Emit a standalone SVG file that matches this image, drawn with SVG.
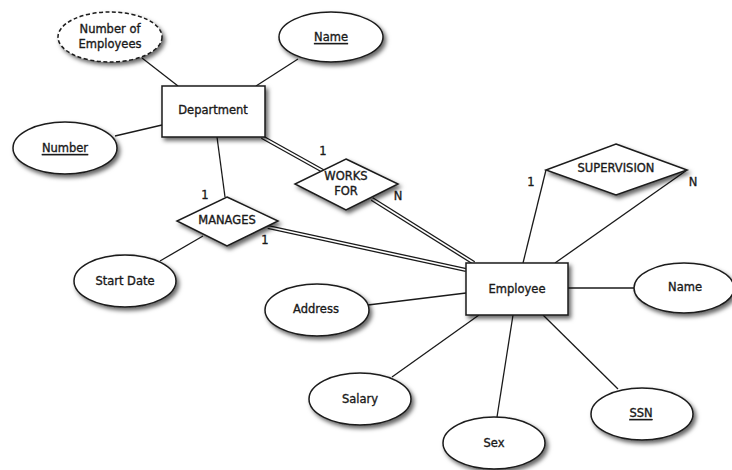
<svg xmlns="http://www.w3.org/2000/svg" width="732" height="470" viewBox="0 0 732 470">
  <defs>
    <filter id="shadow" x="-20%" y="-20%" width="150%" height="160%">
      <feDropShadow dx="2.5" dy="3" stdDeviation="2" flood-color="#000" flood-opacity="0.6"/>
    </filter>
    <style>
      .shape { fill: #fff; stroke: #1a1a1a; stroke-width: 1.5; filter: url(#shadow); }
      .dashed { stroke-dasharray: 4 2.5; }
      .line { stroke: #1a1a1a; stroke-width: 1.3; fill: none; }
      .dbl-out { stroke: #1a1a1a; stroke-width: 4.2; fill: none; }
      .dbl-in { stroke: #fff; stroke-width: 1.6; fill: none; }
      text { font-family: "DejaVu Sans", "Liberation Sans", sans-serif; font-size: 11.5px; fill: #1a1a1a; stroke: #1a1a1a; stroke-width: 0.35; text-anchor: middle; dominant-baseline: central; }
      .key { text-decoration: underline; }
    </style>
  </defs>
  <rect width="732" height="470" fill="#fff"/>

  <!-- connectors -->
  <g id="connectors">
    <line class="line" x1="142" y1="58" x2="178" y2="86"/>
    <line class="line" x1="298" y1="59" x2="256" y2="86"/>
    <line class="line" x1="115" y1="136" x2="162" y2="125"/>
    <line class="line" x1="217" y1="137" x2="225" y2="197"/>
    <line class="line" x1="160" y1="261" x2="203" y2="236"/>
    <line class="line" x1="368" y1="305" x2="466" y2="293"/>
    <line class="line" x1="392" y1="377" x2="479" y2="315"/>
    <line class="line" x1="497" y1="417" x2="513" y2="315"/>
    <line class="line" x1="618" y1="389" x2="543" y2="315"/>
    <line class="line" x1="568" y1="288" x2="634" y2="288"/>
    <line class="line" x1="546" y1="170" x2="523" y2="263"/>
    <line class="line" x1="687" y1="170" x2="555" y2="263"/>
    <!-- total participation (double lines) -->
    <line class="dbl-out" x1="262" y1="137" x2="323" y2="171"/>
    <line class="dbl-in" x1="262" y1="137" x2="323" y2="171"/>
    <line class="dbl-out" x1="372" y1="199" x2="474" y2="263"/>
    <line class="dbl-in" x1="372" y1="199" x2="474" y2="263"/>
    <line class="dbl-out" x1="268" y1="227" x2="466" y2="270"/>
    <line class="dbl-in" x1="268" y1="227" x2="466" y2="270"/>
    <!-- cardinalities -->
    <text x="323" y="151">1</text>
    <text x="398" y="196">N</text>
    <text x="205" y="195">1</text>
    <text x="265" y="240">1</text>
    <text x="531" y="182">1</text>
    <text x="693" y="182">N</text>
  </g>

  <g id="num-employees">
    <ellipse class="shape dashed" cx="110" cy="37" rx="52" ry="25"/>
    <text x="110" y="29">Number of</text>
    <text x="110" y="44">Employees</text>
  </g>
  <g id="dept-name">
    <ellipse class="shape" cx="331" cy="37" rx="52" ry="25"/>
    <text class="key" x="331" y="37">Name</text>
  </g>
  <g id="department">
    <rect class="shape" x="162" y="86" width="103" height="51"/>
    <text x="213" y="110">Department</text>
  </g>
  <g id="dept-number">
    <ellipse class="shape" cx="65" cy="148" rx="52" ry="26"/>
    <text class="key" x="65" y="148">Number</text>
  </g>
  <g id="manages">
    <polygon class="shape" points="227,197 278,221 227,246 177,221"/>
    <text x="227" y="220">MANAGES</text>
  </g>
  <g id="works-for">
    <polygon class="shape" points="346,159 398,184 346,210 295,184"/>
    <text x="346" y="176">WORKS</text>
    <text x="346" y="191">FOR</text>
  </g>
  <g id="supervision">
    <polygon class="shape" points="616,144 687,170 616,195 546,170"/>
    <text x="616" y="168">SUPERVISION</text>
  </g>
  <g id="employee">
    <rect class="shape" x="466" y="263" width="102" height="52"/>
    <text x="517" y="289">Employee</text>
  </g>
  <g id="emp-name">
    <ellipse class="shape" cx="684" cy="288" rx="50" ry="25"/>
    <text x="685" y="287">Name</text>
  </g>
  <g id="start-date">
    <ellipse class="shape" cx="125" cy="281" rx="51" ry="26"/>
    <text x="125" y="281">Start Date</text>
  </g>
  <g id="address">
    <ellipse class="shape" cx="317" cy="310" rx="52" ry="26"/>
    <text x="316" y="309">Address</text>
  </g>
  <g id="salary">
    <ellipse class="shape" cx="360" cy="399" rx="51" ry="26"/>
    <text x="360" y="399">Salary</text>
  </g>
  <g id="sex">
    <ellipse class="shape" cx="494" cy="443" rx="51" ry="26"/>
    <text x="494" y="443">Sex</text>
  </g>
  <g id="ssn">
    <ellipse class="shape" cx="642" cy="414" rx="51" ry="26"/>
    <text class="key" x="641" y="413">SSN</text>
  </g>
</svg>
